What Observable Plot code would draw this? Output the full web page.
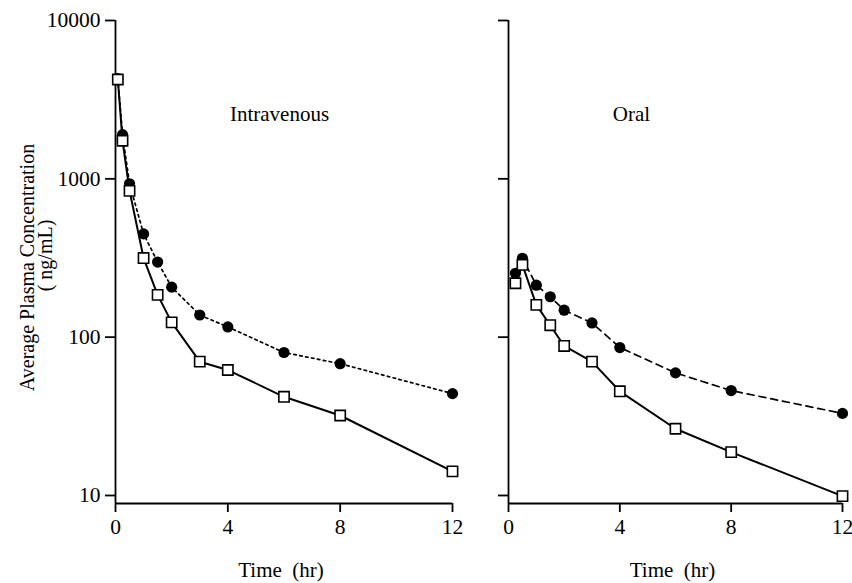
<!DOCTYPE html>
<html>
<head>
<meta charset="utf-8">
<script src="https://cdn.jsdelivr.net/npm/d3@7"></script>
<script src="https://cdn.jsdelivr.net/npm/@observablehq/plot@0.6"></script>
<style>
  body { margin: 0; background: #fff; }
  #chart { display: flex; width: 852px; height: 583px; overflow: hidden; }
</style>
</head>
<body>
<div id="chart"></div>
<script>
// Intravenous panel
const ivTime = [0.083, 0.25, 0.5, 1, 1.5, 2, 3, 4, 6, 8, 12];
const ivSquare = [4240, 1740, 840, 316, 185, 124, 70, 62, 42, 32, 14.2];
const ivCircle = [4300, 1900, 930, 449, 298, 207, 138, 116, 80, 68, 44];

// Oral panel
const oralTime = [0.25, 0.5, 1, 1.5, 2, 3, 4, 6, 8, 12];
const oralSquare = [219, 286, 160, 119, 88, 70, 45.5, 26.4, 18.8, 9.9];
const oralCircle = [253, 315, 213, 180, 148, 123, 86, 59.5, 46, 33];

const yTicks = [10, 100, 1000, 10000];
const xTicks = [0, 4, 8, 12];
const yDomain = [8.9, 10000];
const xDomain = [0, 12];
const yLabel1 = "Average Plasma Concentration";
const yLabel2 = "( ng/mL)";
const xLabel = "Time  (hr)";

const FONT = "'Liberation Serif', 'Times New Roman', serif";

function panel({width, marginLeft, marginRight, time, squares, circles, dash, title, titleDx, yLabels}) {
  const sq = time.map((t, i) => ({t, v: squares[i]}));
  const ci = time.map((t, i) => ({t, v: circles[i]}));
  const marks = [
    Plot.ruleX([0], {stroke: "#000", strokeWidth: 1.8}),
    Plot.ruleY([yDomain[0]], {stroke: "#000", strokeWidth: 1.8}),
    Plot.axisY({ticks: yTicks, tickSize: 10, tickPadding: 5, strokeWidth: 1.8, label: null,
      fontSize: 21.5, tickFormat: yLabels ? (d => String(d)) : (() => "")}),
    Plot.axisX({ticks: xTicks, tickSize: 9, tickPadding: 6, strokeWidth: 1.8, label: null,
      fontSize: 21.5, tickFormat: d => String(d)}),
    Plot.line(ci, {x: "t", y: "v", stroke: "#000", strokeWidth: 1.7, strokeDasharray: dash}),
    Plot.line(sq, {x: "t", y: "v", stroke: "#000", strokeWidth: 2}),
    Plot.dot(ci, {x: "t", y: "v", r: 5.6, fill: "#000", stroke: "none"}),
    Plot.dot(sq, {x: "t", y: "v", r: 5.8, symbol: "square", fill: "#fff", stroke: "#000", strokeWidth: 1.6}),
    Plot.text([title], {text: d => d, frameAnchor: "top-left", dx: titleDx, dy: 86,
      textAnchor: "middle", fontSize: 21, style: {letterSpacing: "1.3px"}}),
    Plot.text([xLabel], {text: d => d, frameAnchor: "bottom", textAnchor: "middle", dx: -3, dy: 73,
      fontSize: 21, style: {letterSpacing: "0.5px"}})
  ];
  if (yLabels) {
    marks.push(
      Plot.text([yLabel1], {text: d => d, frameAnchor: "left", textAnchor: "middle", rotate: -90,
        dx: -88, dy: 5.5, fontSize: 20, style: {letterSpacing: "0.2px"}}),
      Plot.text([yLabel2], {text: d => d, frameAnchor: "left", textAnchor: "middle", rotate: -90,
        dx: -70, dy: -6.5, fontSize: 20})
    );
  }
  return Plot.plot({
    width,
    height: 583,
    marginLeft,
    marginRight,
    marginTop: 20,
    marginBottom: 80,
    style: {fontFamily: FONT, fontSize: "21px", color: "#000", background: "#fff"},
    x: {domain: xDomain, axis: null},
    y: {type: "log", domain: yDomain, axis: null},
    marks
  });
}

const chart = document.getElementById("chart");
chart.append(
  panel({width: 470, marginLeft: 115, marginRight: 18, time: ivTime, squares: ivSquare,
    circles: ivCircle, dash: "2.5,3.5", title: "Intravenous", titleDx: 164, yLabels: true}),
  panel({width: 382, marginLeft: 38, marginRight: 10, time: oralTime, squares: oralSquare,
    circles: oralCircle, dash: "7,5", title: "Oral", titleDx: 123, yLabels: false})
);
</script>
</body>
</html>
